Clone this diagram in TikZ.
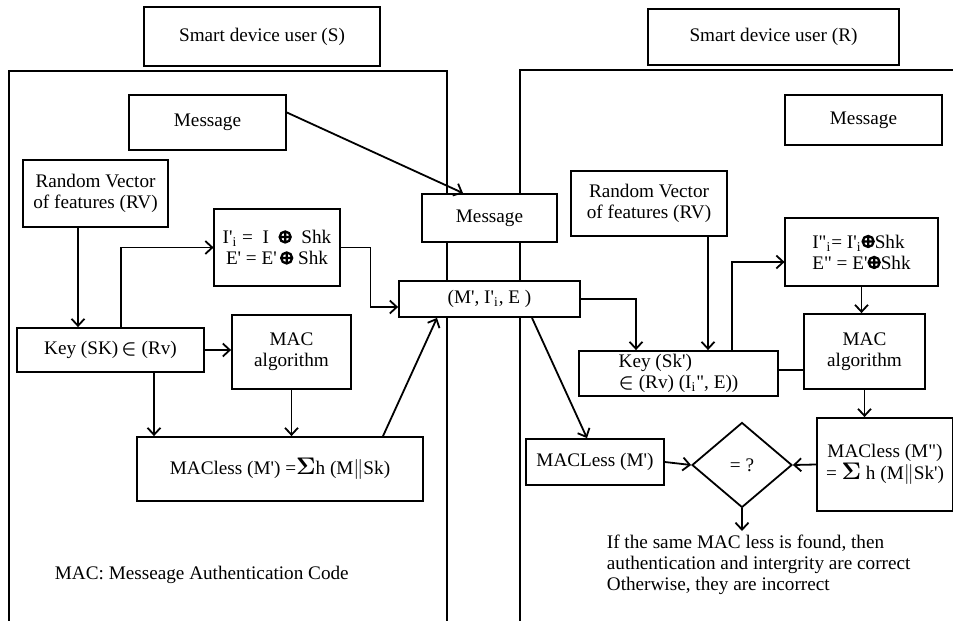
\documentclass[tikz,border=0pt]{standalone}
\usepackage{amsmath}
\usepackage{fontspec}
\setmainfont{Liberation Serif}[Ligatures=TeXOff]
\usetikzlibrary{shapes.geometric,arrows.meta,calc}
\newcommand\myoplus{\tikz[baseline=-3.3pt, x=1pt, y=1pt]{\draw[black, line width=1.15pt] (0,0) circle (2.75pt) (-2.75,0) -- (2.75,0) (0,-2.75) -- (0,2.75);}}
\newcommand\myin{$\boldsymbol{\in}$}
\newcommand\mysum{{\large$\boldsymbol{\Sigma}$}}
\begin{document}
\begin{tikzpicture}[x=0.5pt,y=-0.5pt,
  font=\fontsize{9.6}{10.5}\selectfont, line width=0.9pt,
  box/.style={draw, fill=white, inner sep=0pt, align=center},
  arr/.style={-{Straight Barb[length=3.5pt,width=6.5pt]}}]
\clip (0,0) rectangle (953,621);
% frames
\draw (9,640) -- (9,71) -- (447,71) -- (447,640);
\draw (520,640) -- (520,70) -- (960,70);
% left side
\node[box, minimum width=118pt, minimum height=29.5pt] (userS) at (262,36.5) {Smart device user (S)};
\node[box, minimum width=78.5pt, minimum height=27.5pt] (msgL) at (207.5,122.5) {Message};
\node[box, minimum width=72.5pt, minimum height=33.5pt] (rvL) at (95.5,193.5) {Random Vector\\of features (RV)};
\node[box, minimum width=63pt, minimum height=38.5pt] (ipL) at (277,247.5) {I'\textsubscript{i} =\ \ I \ \myoplus\ \ Shk\\E' = E'\,\myoplus\ Shk};
\node[box, minimum width=67.5pt, minimum height=24pt] (msgC) at (489.5,218) {Message};
\node[box, minimum width=90.5pt, minimum height=18pt] (tup) at (489.5,299) {(M', I'\textsubscript{i}, E )};
\node[box, minimum width=93.5pt, minimum height=22pt] (keyL) at (110.5,350) {Key (SK)\,\myin\ (Rv)};
\node[box, minimum width=59.5pt, minimum height=37pt] (macL) at (291.5,352) {MAC\\algorithm};
\node[box, minimum width=143pt, minimum height=32pt] (mlL) at (280,469) {MACless (M') =\mysum h (M$\|$Sk)};
\node[anchor=west, inner sep=0pt] (legend) at (54,575) {MAC: Messeage Authentication Code};
% right side
\node[box, minimum width=125.5pt, minimum height=28pt] (userR) at (773.5,37) {Smart device user (R)};
\node[box, minimum width=78.5pt, minimum height=25pt] (msgR) at (863.5,120) {Message};
\node[box, minimum width=78pt, minimum height=32.5pt] (rvR) at (649,203.5) {Random Vector\\of features (RV)};
\node[box, minimum width=76.5pt, minimum height=34pt, align=left] (ipR) at (861.5,252) {I"\textsubscript{i}= I'\textsubscript{i}\myoplus Shk\\E" = E'\myoplus Shk};
\node[box, minimum width=99.5pt, minimum height=22.5pt, align=left, font=\fontsize{9.6}{10.8}\selectfont] (keyR) at (678.5,373.5) {Key (Sk')\\\myin\ (Rv) (I\textsubscript{i}", E))};
\node[box, minimum width=60.5pt, minimum height=37.5pt] (macR) at (864.5,351.5) {MAC\\algorithm};
\node[box, minimum width=68pt, minimum height=46.5pt, font=\fontsize{9.6}{11}\selectfont] (mlR) at (885,464.5) {MACless (M")\\= \mysum\ h (M$\|$Sk')};
\node[box, minimum width=69pt, minimum height=23pt] (mlR2) at (595,462) {MACLess (M')};
\node[box, shape=diamond, minimum width=50pt, minimum height=42.5pt] (dia) at (742,465) {= ?};
\node[anchor=west, align=left, inner sep=0pt] (result) at (606,565) {If the same MAC less is found, then\\authentication and intergrity are correct\\Otherwise, they are incorrect};
\coordinate (resTop) at (742,531);
% connectors left
\draw[arr] ([yshift=5pt]msgL.east) -- ([xshift=-13.25pt]msgC.north);
\draw[arr] ([xshift=-8.75pt]rvL.south) -- ([xshift=-8.75pt]rvL.south |- keyL.north);
\draw[arr] ([xshift=5.25pt]keyL.north) |- (ipL.west);
\draw[arr] (keyL.east) -- (keyL.east -| macL.west);
\draw[arr] ([xshift=21.75pt]keyL.south) -- ([xshift=21.75pt]keyL.south |- mlL.north);
\draw[arr] (macL.south) -- (macL.south |- mlL.north);
\draw[arr] ([xshift=51.5pt]mlL.north) -- ([xshift=-26.25pt]tup.south);
\draw[arr] (ipL.east) -- ++(15pt,0) |- ([yshift=-4pt]tup.west);
% connectors right
\draw[arr] (tup.east) -| ([xshift=-21.25pt]keyR.north);
\draw[arr] ([xshift=29.5pt]rvR.south) -- ([xshift=29.5pt]rvR.south |- keyR.north);
\draw[arr] ([xshift=26.75pt]keyR.north) |- ([yshift=-5pt]ipR.west);
\draw[arr] (ipR.south) -- (ipR.south |- macR.north);
\draw ([yshift=1.75pt]keyR.east) -- ([yshift=1.75pt]keyR.east -| macR.west);
\draw[arr] (macR.south) -- (macR.south |- mlR.north);
\draw[arr] (mlR.west) -- (dia.east);
\draw[arr] (mlR2.east) -- (dia.west);
\draw[arr] ([xshift=21.25pt]tup.south) -- ([xshift=-4pt]mlR2.north);
\draw[arr] (dia.south) -- (resTop);
\end{tikzpicture}
\end{document}
